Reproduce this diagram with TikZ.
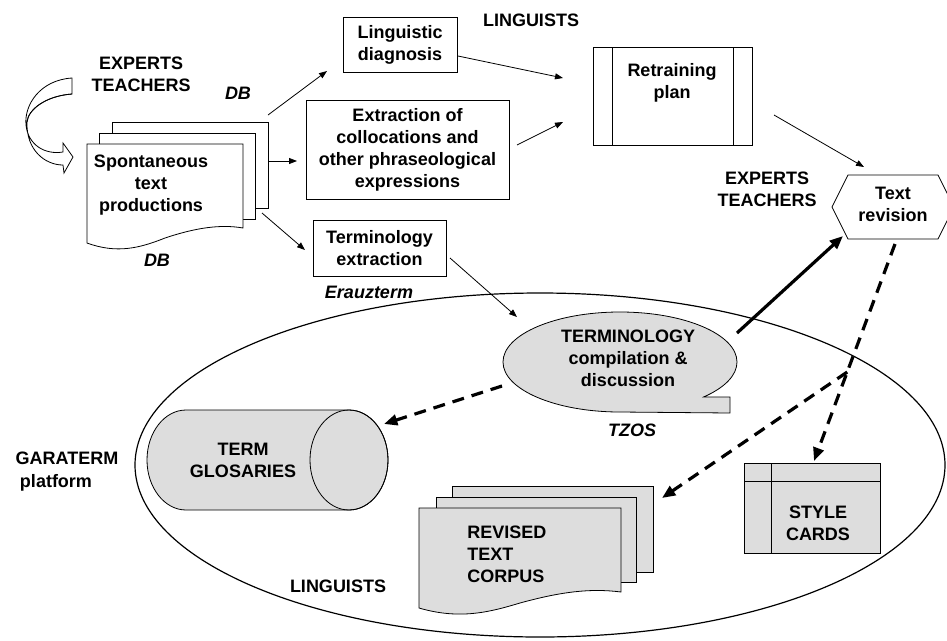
\documentclass[tikz,border=0pt]{standalone}
\usepackage{fontspec}
\setmainfont{Liberation Sans}
\usetikzlibrary{arrows.meta,calc}
\definecolor{shade}{HTML}{DDDDDD}
\begin{document}
\begin{tikzpicture}[x=0.75pt,y=-0.75pt,line join=miter,
  lbl/.style={font=\fontsize{13.5}{16.5}\selectfont\bfseries,align=center,inner sep=0pt},
  ilbl/.style={font=\fontsize{13.5}{16.5}\selectfont\bfseries\itshape,inner sep=0pt},
  shp/.style={draw,line width=0.6pt},
  boxnode/.style={shp,fill=white,font=\fontsize{13.5}{16.5}\selectfont\bfseries,align=center,inner sep=0pt},
  conn/.style={line width=0.6pt,-{Triangle[length=6pt,width=4.5pt]}},
  fatarr/.style={line width=2.4pt,-{Triangle[length=10pt,width=8pt]}},
  dasharr/.style={line width=2.4pt,dash pattern=on 9pt off 6pt,-{Triangle[length=10pt,width=8pt]}}]
\useasboundingbox (0,0) rectangle (947,640);

% platform ellipse
\draw[line width=0.9pt] (540,465) ellipse [x radius=405, y radius=172];

% curved arrow (experts/teachers)
\draw[shp,fill=white] (72,78) -- (72,94)
  .. controls (45,96) and (28,110) .. (27,122)
  .. controls (26,150) and (45,165) .. (63,165) -- (64,173) -- (73,157) -- (63,143) -- (63,152)
  .. controls (45,155) and (28,145) .. (26,125)
  .. controls (24,105) and (40,80) .. (72,78) -- cycle;
\draw[shp] (72,94) .. controls (45,96) and (28,110) .. (27,122);

% spontaneous doc stack
\draw[shp,fill=white] (112,122) rectangle (268,208);
\draw[shp,fill=white] (99,133) rectangle (255,219);
\draw[shp,fill=white] (87,144) -- (243,144) -- (243,228)
  .. controls (220,224) and (195,228) .. (165,238)
  .. controls (140,248) and (117,254) .. (87,243) -- cycle;
\node[lbl] (spont) at (151,185) {Spontaneous\\text\\productions};
\node[lbl,anchor=east] (expA) at (191,74) {EXPERTS\\TEACHERS};
\node[ilbl] (dbA) at (238,93) {DB};
\node[ilbl] (dbB) at (157,260) {DB};

% boxes
\node[boxnode,minimum width=85.5pt,minimum height=41.25pt] (ld) at (400,44.5) {Linguistic\\diagnosis};
\node[boxnode,minimum width=152.25pt,minimum height=74.25pt] (ext) at (407.5,149.5) {Extraction of\\collocations and\\other phraseological\\expressions};
\node[boxnode,minimum width=99.75pt,minimum height=42pt] (te) at (379.5,248) {Terminology\\extraction};
\node[lbl] (lingA) at (531,20) {LINGUISTS};
\node[ilbl] (erau) at (369,292) {Erauzterm};

% retraining plan
\node[shp,fill=white,minimum width=119.25pt,minimum height=73.5pt,inner sep=0pt] (rp) at (672.5,96) {};
\draw[shp] (612,47) -- (612,145) (733,47) -- (733,145);
\node[lbl] (rpt) at (672,83) {Retraining\\plan};

% text revision hexagon
\draw[shp,fill=white] (832,207) -- (848,175) -- (938,175) -- (954,207) -- (938,239) -- (848,239) -- cycle;
\node[lbl] (tr) at (893,204) {Text\\revision};
\node[lbl,anchor=east] (expB) at (817,189) {EXPERTS\\TEACHERS};

% terminology callout
\draw[shp,fill=shade] (620,412) arc [start angle=-270, end angle=44.4, x radius=117, y radius=50]
  -- (730,397) -- (730,413) -- cycle;
\node[lbl] (term) at (628,358) {TERMINOLOGY\\compilation \&\\discussion};
\node[ilbl] (tzos) at (632,430) {TZOS};

% cylinder
\draw[shp,fill=shade] (186,410) -- (349,410) arc [start angle=-90, end angle=90, x radius=39, y radius=50]
  -- (186,510) arc [start angle=90, end angle=270, x radius=39, y radius=50] -- cycle;
\draw[shp] (349,460) ellipse [x radius=39, y radius=50];
\node[lbl] (gl) at (243,460) {TERM\\GLOSARIES};

% revised corpus stack
\draw[shp,fill=shade] (452,486) rectangle (653,572);
\draw[shp,fill=shade] (436,497) rectangle (636,582);
\draw[shp,fill=shade] (419,508) -- (621,508) -- (621,592)
  .. controls (590,588) and (560,592) .. (520,603)
  .. controls (490,612) and (460,620) .. (419,608) -- cycle;
\node[lbl,align=left,anchor=west] (rc) at (467,554) {REVISED\\TEXT\\CORPUS};

% style cards
\node[shp,fill=shade,minimum width=102pt,minimum height=67.5pt,inner sep=0pt] (sc) at (812,508) {};
\draw[shp] (771,463) -- (771,553) (744,481) -- (880,481);
\node[lbl] (sct) at (818,523) {STYLE\\CARDS};

\node[lbl] (gara) at (67,458) {GARATERM};
\node[lbl] (plat) at (56,483) {platform};
\node[lbl] (lingB) at (338,586) {LINGUISTS};

% connector endpoints
\coordinate (s1) at (268,115); \coordinate (ld1) at (327,71);
\coordinate (s2) at (268,161); \coordinate (ex1) at (297,161);
\coordinate (s3) at (262,213); \coordinate (te1) at (305,250);
\coordinate (ld2) at (458,56); \coordinate (rp1) at (563,78);
\coordinate (ex2) at (517,145); \coordinate (rp2) at (563,122);
\coordinate (rp3) at (774,115); \coordinate (tr1) at (864,167);
\coordinate (te2) at (450,258); \coordinate (tm1) at (517,317);
\coordinate (tm2) at (737,333); \coordinate (tr2) at (843,236);
\coordinate (tm3) at (502,386); \coordinate (gl1) at (384,424);
\coordinate (tr3) at (895,244); \coordinate (sc1) at (814,461);
\coordinate (br) at ($(tr3)!0.59!(sc1)$); \coordinate (rc1) at (662,498);

\draw[conn] (s1) -- (ld1);
\draw[conn] (s2) -- (ex1);
\draw[conn] (s3) -- (te1);
\draw[conn] (ld2) -- (rp1);
\draw[conn] (ex2) -- (rp2);
\draw[conn] (rp3) -- (tr1);
\draw[conn] (te2) -- (tm1);
\draw[fatarr] (tm2) -- (tr2);
\draw[dasharr] (tm3) -- (gl1);
\draw[dasharr] (tr3) -- (sc1);
\draw[dasharr] (br) -- (rc1);
\end{tikzpicture}
\end{document}
